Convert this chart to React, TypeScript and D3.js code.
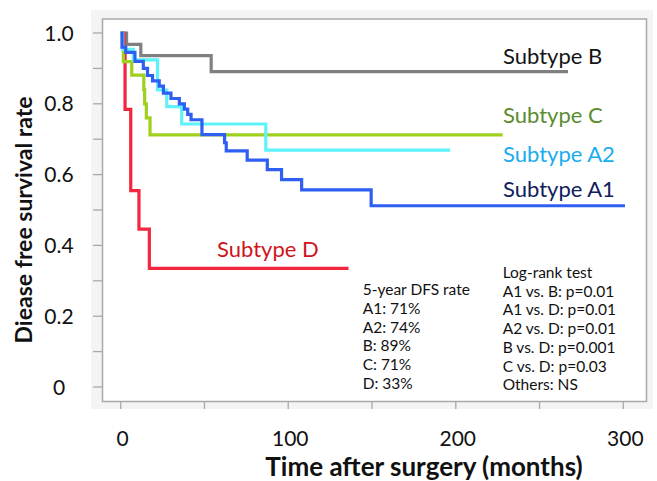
import { useRef, useEffect } from "react";
import * as d3 from "d3";

// Kaplan-Meier steps: [months, survival]
const curveB = [[0, 1], [3.5, 0.968], [12, 0.936], [54, 0.891], [267, 0.891]];
const curveC = [[0, 1], [1, 0.96], [1.6, 0.919], [6.6, 0.881], [13.8, 0.84], [14.3, 0.8], [15.3, 0.76], [17.5, 0.712], [228, 0.712]];
const curveA2 = [[0, 1], [1.2, 0.954], [7.5, 0.924], [22, 0.839], [27.5, 0.792], [36.4, 0.743], [86.6, 0.669], [196.6, 0.669]];
const curveA1 = [
  [0, 1], [0.8, 0.96], [3, 0.945], [8.5, 0.92], [13.5, 0.9], [16, 0.88], [19, 0.865],
  [23, 0.85], [25.5, 0.83], [30, 0.815], [35, 0.8], [38, 0.785], [40, 0.77], [42, 0.755],
  [48.5, 0.713], [62, 0.69], [63, 0.667], [75.5, 0.641], [87.5, 0.614], [96, 0.586],
  [108, 0.557], [149.5, 0.512], [301, 0.512],
];
const curveD = [[0, 1], [2, 0.944], [2.6, 0.784], [6, 0.555], [10.9, 0.446], [17.1, 0.335], [136, 0.335]];

const seriesNames = ["B", "D", "C", "A2", "A1"];
const lineColors = { B: "#808080", C: "#9fd01c", A2: "#5ef2fb", A1: "#2f5ff2", D: "#f2263c" };

const xTickLabels = [0, 100, 200, 300];
const yTickLabels = [0, 0.2, 0.4, 0.6, 0.8, 1.0];

const dfsLines = ["5-year DFS rate", "A1: 71%", "A2: 74%", "B: 89%", "C: 71%", "D: 33%"];
const logRankLines = [
  "Log-rank test",
  "A1 vs. B: p=0.01",
  "A1 vs. D: p=0.01",
  "A2 vs. D: p=0.01",
  "B vs. D: p=0.001",
  "C vs. D: p=0.03",
  "Others: NS",
];

const FONT = "Lato, 'Open Sans', sans-serif";

export default function App() {
  const ref = useRef<SVGSVGElement>(null);

  useEffect(() => {
    const svg = d3.select(ref.current);
    svg.selectAll("*").remove();

    const x = d3.scaleLinear().domain([0, 300]).range([120.7, 623.3]);
    const y = d3.scaleLinear().domain([0, 1]).range([387, 33]);

    const frame = { left: 102.5, top: 19, right: 646.5, bottom: 401.5 };

    // outer gray panel + white plot box
    svg.append("rect").attr("x", 91).attr("y", 10).attr("width", 562).attr("height", 399).attr("fill", "#f4f4f4");
    svg
      .append("rect")
      .attr("x", frame.left)
      .attr("y", frame.top)
      .attr("width", frame.right - frame.left)
      .attr("height", frame.bottom - frame.top)
      .attr("fill", "#fff")
      .attr("stroke", "#a9a9a9")
      .attr("stroke-width", 1.5);

    // y ticks (every 0.1)
    svg
      .append("g")
      .selectAll("line")
      .data(d3.range(0, 11).map((i) => i / 10))
      .enter()
      .append("line")
      .attr("x1", 93)
      .attr("x2", frame.left)
      .attr("y1", (d) => y(d))
      .attr("y2", (d) => y(d))
      .attr("stroke", "#a9a9a9")
      .attr("stroke-width", 1.3);

    svg
      .append("g")
      .selectAll("text")
      .data(yTickLabels)
      .enter()
      .append("text")
      .attr("x", 59)
      .attr("y", (d) => y(d) + 7.5)
      .attr("text-anchor", "middle")
      .style("font-family", FONT)
      .style("font-size", "21px")
      .attr("fill", "#111")
      .text((d) => (d === 0 ? "0" : d.toFixed(1)));

    // x ticks (every 50)
    svg
      .append("g")
      .selectAll("line")
      .data(d3.range(0, 301, 50))
      .enter()
      .append("line")
      .attr("x1", (d) => x(d))
      .attr("x2", (d) => x(d))
      .attr("y1", frame.bottom)
      .attr("y2", 409)
      .attr("stroke", "#a9a9a9")
      .attr("stroke-width", 1.3);

    svg
      .append("g")
      .selectAll("text")
      .data(xTickLabels)
      .enter()
      .append("text")
      .attr("x", (d) => x(d) + 2)
      .attr("y", 446)
      .attr("text-anchor", "middle")
      .style("font-family", FONT)
      .style("font-size", "21px")
      .attr("fill", "#111")
      .text((d) => String(d));

    // axis titles
    svg
      .append("text")
      .attr("x", 424)
      .attr("y", 476)
      .attr("text-anchor", "middle")
      .style("font-family", FONT)
      .style("font-size", "26px")
      .style("font-weight", "bold")
      .attr("fill", "#111")
      .text("Time after surgery (months)");

    svg
      .append("text")
      .attr("transform", "translate(32,220) rotate(-90)")
      .attr("text-anchor", "middle")
      .style("font-family", FONT)
      .style("font-size", "23px")
      .style("font-weight", "bold")
      .attr("fill", "#111")
      .text("Diease free survival rate");

    // survival curves
    const curves = { B: curveB, C: curveC, A2: curveA2, A1: curveA1, D: curveD };
    const line = d3
      .line<number[]>()
      .x((d) => x(d[0]))
      .y((d) => y(d[1]))
      .curve(d3.curveStepAfter);

    svg
      .append("g")
      .selectAll("path")
      .data(seriesNames)
      .enter()
      .append("path")
      .attr("d", (k) => line(curves[k]))
      .attr("fill", "none")
      .attr("stroke", (k) => lineColors[k])
      .attr("stroke-width", 3.2)
      .attr("stroke-linejoin", "miter");

    // curve labels
    const labels = [
      { text: "Subtype B", x: 503, y: 64, color: "#151515" },
      { text: "Subtype C", x: 503, y: 123, color: "#5a8c30" },
      { text: "Subtype A2", x: 503, y: 162, color: "#19adef" },
      { text: "Subtype A1", x: 503, y: 197, color: "#10205c" },
      { text: "Subtype D", x: 217, y: 257, color: "#cf1420" },
    ];
    svg
      .append("g")
      .selectAll("text")
      .data(labels)
      .enter()
      .append("text")
      .attr("x", (d) => d.x)
      .attr("y", (d) => d.y)
      .style("font-family", FONT)
      .style("font-size", "22px")
      .attr("fill", (d) => d.color)
      .text((d) => d.text);

    // stats blocks
    svg
      .append("g")
      .selectAll("text")
      .data(dfsLines)
      .enter()
      .append("text")
      .attr("x", 362.7)
      .attr("y", (d, i) => 295 + i * 18.8)
      .style("font-family", FONT)
      .style("font-size", "15.5px")
      .attr("fill", "#111")
      .text((d) => d);

    svg
      .append("g")
      .selectAll("text")
      .data(logRankLines)
      .enter()
      .append("text")
      .attr("x", 502.7)
      .attr("y", (d, i) => 278 + i * 18.7)
      .style("font-family", FONT)
      .style("font-size", "15.5px")
      .attr("fill", "#111")
      .text((d) => d);
  }, []);

  return (
    <svg
      ref={ref}
      width={657}
      height={481}
      style={{ position: "absolute", left: 0, top: 0, background: "#fff" }}
    ></svg>
  );
}
